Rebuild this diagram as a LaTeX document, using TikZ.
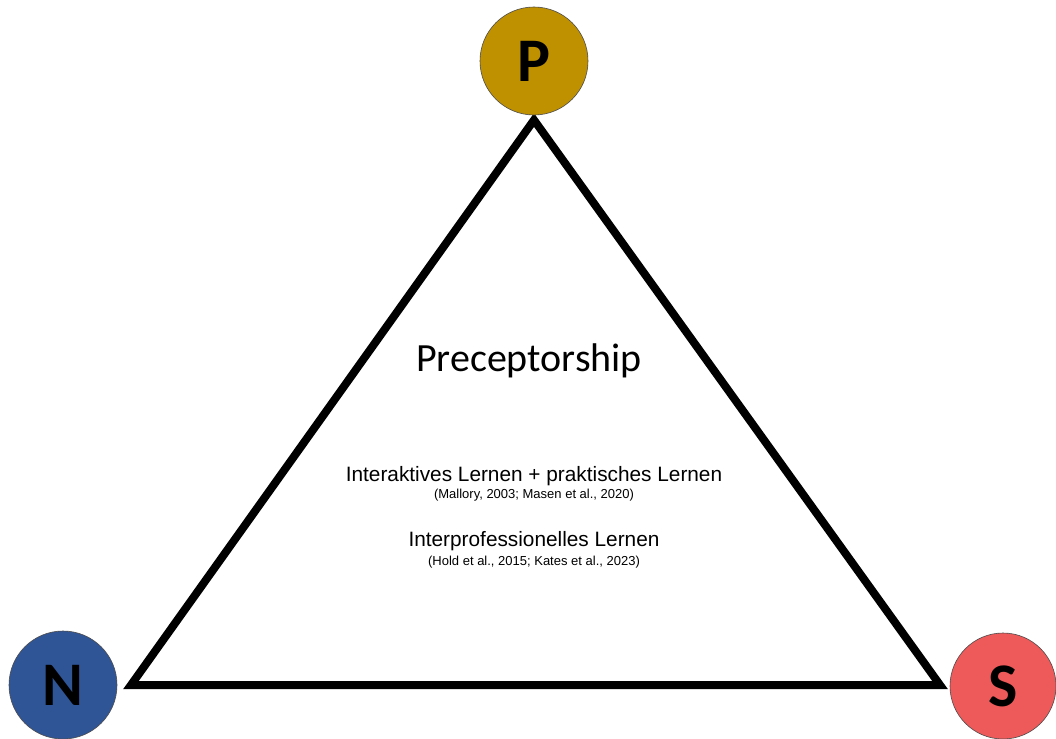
\documentclass[tikz,border=0pt]{standalone}
\usepackage{fontspec}
\setmainfont{Carlito}
\newfontfamily\arialf{Liberation Sans}
\definecolor{pgold}{HTML}{BF9000}
\definecolor{nblue}{HTML}{2F5597}
\definecolor{sred}{HTML}{EE5A5A}
\begin{document}
\begin{tikzpicture}[x=1pt,y=-1pt,
  vert/.style={circle,draw=black!70,line width=0.6pt,minimum size=108pt,inner sep=0pt,font=\fontsize{62}{62}\selectfont\bfseries},
  main/.style={font=\fontsize{40}{44}\selectfont},
  lbl/.style={font=\arialf\fontsize{20.8}{22}\selectfont},
  cite/.style={font=\arialf\fontsize{13}{14}\selectfont}]
\useasboundingbox (0,0) rectangle (1056,738);
\coordinate (A) at (534,120);
\coordinate (B) at (131,685);
\coordinate (C) at (940,685);
\draw[line width=8pt,line join=miter] (A) -- (B) -- (C) -- cycle;
\node[vert,fill=pgold] (P) at (534,61) {P};
\node[vert,fill=nblue] (N) at (63,685) {N};
\node[vert,fill=sred,minimum size=106pt] (S) at (1003,686) {S};
\node[main] (t) at (529,361) {Preceptorship};
\node[lbl] (l1) at (534,476) {Interaktives Lernen + praktisches Lernen};
\node[cite] (c1) at (534,495) {(Mallory, 2003; Masen et al., 2020)};
\node[lbl] (l2) at (534,541) {Interprofessionelles Lernen};
\node[cite] (c2) at (534,562) {(Hold et al., 2015; Kates et al., 2023)};
\end{tikzpicture}
\end{document}
